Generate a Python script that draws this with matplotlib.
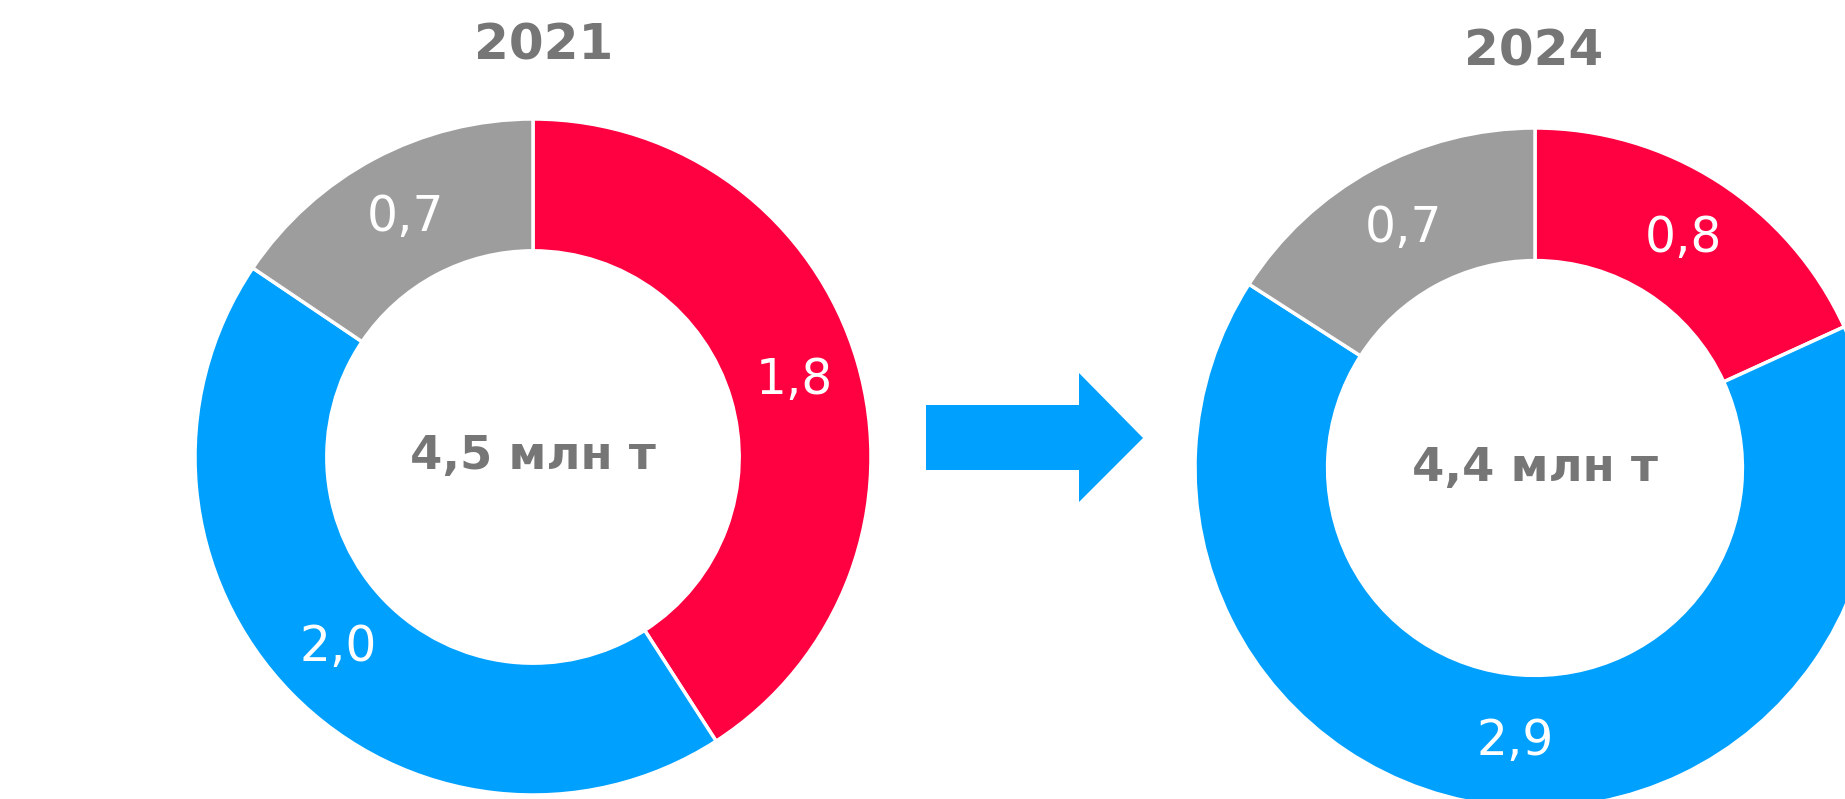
import matplotlib
matplotlib.use("Agg")
import matplotlib.pyplot as plt
from matplotlib.patches import Polygon

W, H = 1845, 799
DPI = 100

years = ["2021", "2024"]
totals = ["4,5 млн т", "4,4 млн т"]
segments = ["Красный", "Синий", "Серый"]
values_2021 = [1.84, 1.96, 0.70]
values_2024 = [0.8, 2.9, 0.7]

COLORS = ["#FF0040", "#00A0FF", "#9D9D9D"]
TEXT_GREY = "#767676"
RING = 0.39

fig = plt.figure(figsize=(W / DPI, H / DPI), dpi=DPI)
fig.patch.set_facecolor("white")


def donut(cx, cy, r, values, total, title, title_xy):
    # cx, cy, r in pixels, cy from top
    ax = fig.add_axes([(cx - r) / W, (H - cy - r) / H, 2 * r / W, 2 * r / H])
    labels = [f"{v:.1f}".replace(".", ",") for v in values]
    wedges, texts = ax.pie(values, colors=COLORS, startangle=90, counterclock=False,
                           radius=1, labels=labels, labeldistance=1 - RING / 2,
                           wedgeprops=dict(width=RING, edgecolor="white", linewidth=2.5),
                           textprops=dict(color="white", fontsize=35))
    for t in texts:
        t.set_ha("center")
        t.set_va("center")
    ax.set_xlim(-1, 1)
    ax.set_ylim(-1, 1)
    ax.text(0, 0, total, ha="center", va="center", fontsize=33.5,
            fontweight="bold", color=TEXT_GREY)
    fig.text(title_xy[0] / W, 1 - title_xy[1] / H, title, ha="center", va="center",
             fontsize=36, fontweight="bold", color=TEXT_GREY)
    return ax


donut(533, 457, 338, values_2021, totals[0], years[0], (544, 46))
donut(1535, 468, 340, values_2024, totals[1], years[1], (1534, 52))

# transition arrow between the two donuts
pts = [(926, 405), (1079, 405), (1079, 373), (1143, 438),
       (1079, 502), (1079, 470), (926, 470)]
arrow = Polygon([(x / W, 1 - y / H) for x, y in pts], closed=True,
                facecolor="#00A0FF", edgecolor="none", transform=fig.transFigure)
fig.patches.append(arrow)

fig.savefig("out.png", dpi=DPI, facecolor="white")
